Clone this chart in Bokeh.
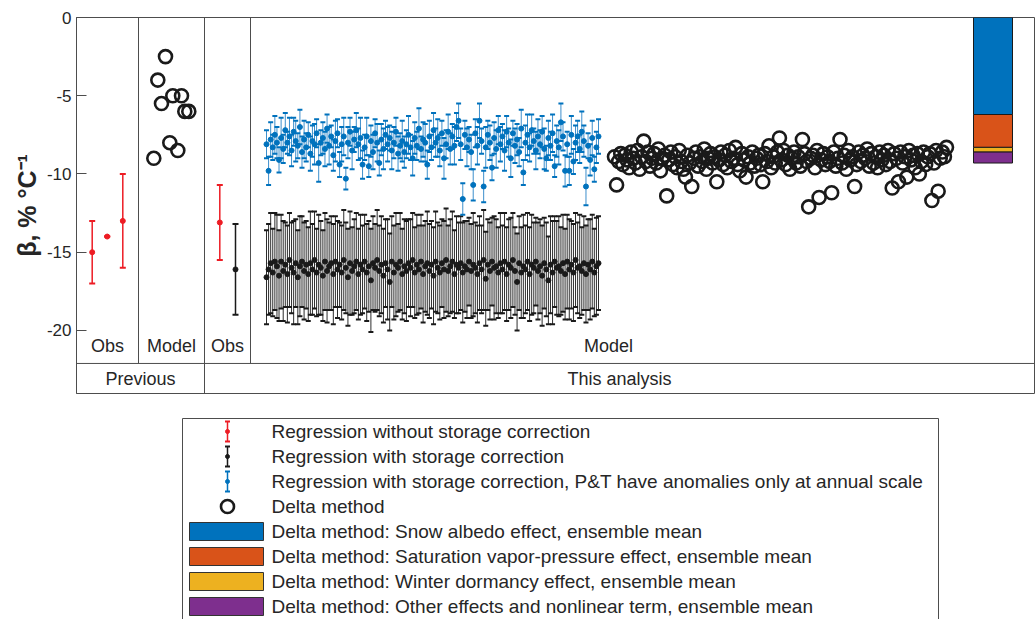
from bokeh.plotting import figure
from bokeh.layouts import column
from bokeh.models import Range1d, FixedTicker, Span
from bokeh.core.properties import value
from bokeh.embed import file_html
from bokeh.resources import INLINE

FONT = "Liberation Sans"

# ---------------- data ----------------
prev_obs_val = [-15.0, -14.0, -13.0]
prev_obs_lo = [-17.0, -14.0, -16.0]
prev_obs_hi = [-13.0, -14.0, -10.0]

prev_model_val = [-9.0, -4.0, -2.5, -5.5, -5.0, -5.0, -8.0, -8.5, -6.0, -6.0]

obs_nostorage = [-13.1]; obs_nostorage_lo = [-15.5]; obs_nostorage_hi = [-10.7]
obs_storage = [-16.1]; obs_storage_lo = [-19.0]; obs_storage_hi = [-13.2]

blue_val = [
    -8.1, -9.8, -7.8, -8.3, -7.5, -8.0, -9.1, -7.7, -8.4, -7.2, -8.0, -7.6, -8.5, -7.3, -7.9, -8.2, -7.0, -8.6, -7.8, -8.3,
    -7.5, -8.7, -7.9, -8.1, -7.4, -9.3, -8.0, -7.7, -8.4, -7.1, -8.2, -7.6, -8.8, -7.9, -7.4, -9.4, -8.1, -7.6, -10.3, -8.0,
    -7.3, -8.5, -7.8, -7.2, -8.1, -7.7, -9.4, -8.3, -7.6, -9.5, -7.9, -8.6, -7.4, -8.0, -9.3, -7.8, -8.4, -7.5, -8.1, -7.7,
    -8.5, -8.0, -7.3, -8.7, -8.2, -7.9, -8.6, -8.1, -7.5, -8.3, -9.0, -7.7, -8.2, -7.1, -8.4, -7.8, -8.0, -9.4, -7.6, -8.3,
    -7.2, -8.0, -7.7, -8.5, -7.4, -9.0, -8.1, -7.3, -8.4, -7.6, -8.2, -7.0, -6.6, -8.1, -11.6, -7.5, -8.3, -7.8, -8.6, -10.7,
    -7.4, -8.2, -6.6, -7.9, -10.8, -8.3, -7.5, -8.0, -9.6, -7.7, -8.4, -7.2, -8.1, -7.6, -8.5, -7.3, -8.0, -9.0, -7.4, -8.2,
    -7.8, -8.6, -7.1, -9.9, -8.0, -7.5, -8.3, -7.2, -7.9, -8.5, -7.6, -8.1, -7.3, -8.4, -9.0, -7.7, -8.2, -7.4, -9.5, -7.9,
    -8.3, -6.7, -7.6, -9.8, -8.1, -9.8, -7.5, -9.2, -8.0, -7.6, -8.4, -7.3, -7.9, -10.8, -8.2, -9.1, -7.7, -9.7, -8.3, -7.6,
]
blue_err = [
    0.9, 0.9, 1.1, 0.8, 1.2, 1.0, 0.8, 1.3, 0.9, 1.1, 0.7, 1.2, 1.0, 0.9, 1.3, 0.8, 1.1, 1.0, 1.2, 0.9,
    0.8, 1.1, 1.0, 1.3, 0.9, 1.2, 0.8, 1.0, 1.1, 0.9, 1.2, 0.7, 1.0, 1.3, 0.9, 0.8, 1.1, 1.2, 0.7, 1.0,
    0.9, 1.2, 0.8, 1.1, 1.0, 1.3, 0.9, 0.8, 1.2, 0.7, 1.0, 1.1, 0.9, 1.2, 0.8, 1.0, 1.3, 0.9, 1.1, 0.8,
    1.2, 1.0, 0.9, 1.1, 0.8, 1.3, 1.0, 0.9, 1.2, 0.8, 1.1, 1.0, 0.9, 1.3, 0.8, 1.1, 1.2, 0.9, 1.0, 0.8,
    1.1, 0.9, 1.2, 1.0, 0.8, 1.3, 0.9, 1.1, 1.0, 0.8, 1.2, 0.9, 1.1, 1.0, 1.0, 0.9, 1.2, 0.8, 1.1, 1.0,
    0.9, 1.2, 1.1, 0.8, 1.0, 1.3, 0.9, 1.1, 0.8, 1.0, 1.2, 0.9, 1.1, 0.8, 1.3, 1.0, 0.9, 1.2, 0.8, 1.1,
    1.0, 0.9, 1.2, 0.8, 1.1, 1.3, 0.9, 1.0, 0.8, 1.2, 1.1, 0.9, 1.0, 1.3, 0.8, 1.1, 0.9, 1.2, 0.7, 1.0,
    1.1, 1.2, 0.9, 1.0, 0.8, 0.9, 1.2, 0.8, 1.1, 1.0, 0.9, 1.3, 1.0, 1.2, 0.8, 1.0, 1.1, 0.8, 1.0, 1.1,
]
black_val = [
    -16.6, -16.1, -15.7, -16.3, -15.6, -15.9, -16.5, -15.6, -16.2, -15.8, -16.4, -15.5, -16.0, -16.3, -15.7, -16.6, -15.9, -15.6, -16.2, -15.8,
    -16.4, -15.7, -16.1, -15.5, -16.3, -15.8, -16.0, -16.5, -15.6, -16.2, -15.9, -15.7, -16.4, -15.6, -16.1, -15.8, -16.3, -15.5, -16.0, -16.6,
    -15.7, -16.2, -15.9, -15.6, -16.4, -15.8, -16.1, -15.6, -16.3, -15.9, -16.8, -15.7, -16.0, -15.5, -16.2, -15.8, -16.5, -15.7, -16.1, -16.9,
    -15.6, -16.3, -15.8, -16.0, -15.6, -16.4, -15.9, -16.2, -15.7, -16.0, -15.5, -16.3, -15.8, -16.1, -15.6, -16.4, -15.9, -15.7, -16.2, -15.8,
    -16.5, -15.6, -16.0, -16.3, -15.7, -16.1, -15.5, -16.2, -15.9, -15.6, -16.4, -15.8, -16.0, -15.7, -16.3, -15.9, -16.1, -15.6, -16.2, -15.8,
    -16.0, -16.4, -15.7, -16.1, -15.5, -16.7, -15.8, -16.2, -15.6, -16.0, -15.9, -16.3, -15.7, -16.1, -15.6, -16.4, -15.8, -16.0, -15.5, -16.2,
    -16.9, -15.7, -16.3, -15.9, -16.1, -15.6, -16.4, -15.8, -16.0, -15.6, -16.2, -15.9, -16.5, -15.7, -16.1, -16.8, -15.8, -16.3, -15.6, -16.0,
    -15.9, -16.2, -15.7, -16.4, -15.6, -16.1, -15.8, -16.3, -15.5, -16.0, -15.9, -16.2, -15.7, -16.4, -15.8, -16.1, -15.6, -16.3, -15.9, -15.7,
]
black_err = [
    3.0, 2.9, 3.2, 2.8, 3.1, 3.3, 2.9, 3.0, 3.2, 2.7, 3.1, 3.0, 2.9, 3.3, 2.8, 3.0, 3.2, 2.9, 3.1, 2.8,
    3.0, 3.3, 2.9, 3.1, 2.8, 3.2, 3.0, 2.9, 3.1, 3.3, 2.8, 3.0, 3.2, 2.9, 3.1, 2.7, 3.0, 3.2, 2.9, 3.1,
    3.3, 2.8, 3.0, 3.1, 2.9, 3.2, 2.8, 3.0, 3.1, 2.9, 3.3, 3.0, 2.8, 3.2, 2.9, 3.1, 3.0, 2.8, 3.2, 3.1,
    2.9, 3.0, 3.3, 2.8, 3.1, 2.9, 3.0, 3.2, 2.8, 3.1, 3.0, 2.9, 3.2, 2.8, 3.0, 3.1, 2.9, 3.3, 3.0, 2.8,
    3.1, 3.2, 2.9, 3.0, 2.8, 3.1, 3.3, 2.9, 3.0, 3.2, 2.8, 3.1, 2.9, 3.0, 3.2, 2.9, 3.1, 2.8, 3.0, 3.3,
    2.9, 3.1, 3.0, 2.8, 3.2, 3.0, 2.9, 3.1, 2.8, 3.3, 3.0, 2.9, 3.2, 2.8, 3.1, 3.0, 2.9, 3.2, 3.0, 2.8,
    3.1, 3.0, 2.9, 3.3, 2.8, 3.1, 3.0, 3.2, 2.9, 2.8, 3.1, 3.0, 3.2, 2.9, 3.0, 2.8, 3.1, 3.3, 2.9, 3.0,
    3.2, 2.8, 3.1, 2.9, 3.0, 3.2, 2.8, 3.1, 3.0, 2.9, 3.3, 2.8, 3.0, 3.1, 2.9, 3.2, 3.0, 2.8, 3.1, 3.0,
]
delta_val = [
    -8.9, -10.7, -9.2, -8.7, -9.4, -8.8, -9.1, -9.6, -8.6, -9.0, -9.3, -8.5, -9.7, -8.9, -7.9, -9.2, -8.6, -9.5, -9.0, -8.7,
    -9.3, -8.4, -9.8, -9.0, -8.8, -11.4, -9.1, -8.6, -9.4, -8.9, -9.6, -8.5, -9.2, -9.7, -10.2, -8.8, -9.3, -10.8, -9.0, -8.6,
    -9.5, -8.9, -9.2, -8.4, -9.7, -9.0, -8.7, -9.3, -8.9, -10.5, -9.1, -8.6, -9.4, -8.8, -9.6, -8.5, -9.2, -9.0, -8.3, -9.4,
    -9.8, -8.7, -9.1, -10.2, -8.9, -9.3, -8.6, -9.5, -9.0, -8.8, -9.4, -10.5, -8.7, -9.2, -8.2, -9.6, -8.9, -9.3, -8.6, -7.7,
    -9.1, -8.5, -9.4, -8.8, -9.7, -9.0, -8.6, -9.3, -8.9, -9.5, -7.8, -8.7, -9.2, -12.1, -9.0, -8.8, -9.6, -8.5, -11.5, -9.1,
    -8.7, -9.4, -8.9, -9.2, -11.2, -8.6, -9.5, -9.0, -7.8, -9.3, -8.8, -9.7, -8.5, -9.1, -8.9, -10.8, -9.4, -8.6, -9.2, -8.8,
    -9.0, -8.4, -9.5, -8.7, -9.3, -8.9, -9.6, -8.6, -9.1, -8.8, -9.4, -8.5, -9.2, -10.9, -8.7, -9.0, -10.5, -8.6, -9.3, -8.9,
    -10.2, -8.5, -9.1, -8.8, -9.6, -8.7, -10.0, -9.2, -8.6, -9.4, -8.9, -8.7, -11.7, -9.3, -8.5, -11.1, -9.0, -8.6, -8.9, -8.3,
]

effect_names = ["Snow albedo effect", "Saturation vapor-pressure effect",
                "Winter dormancy effect", "Other effects and nonlinear term"]
effect_vals = [-6.2, -2.1, -0.3, -0.7]
effect_colors = ["#0072BD", "#D95319", "#EDB120", "#7E2F8E"]

yticks = [-20, -15, -10, -5, 0]
group_labels = ["Obs", "Model", "Obs", "Model"]
band_labels = ["Previous", "This analysis"]

legend_labels = [
    "Regression without storage correction",
    "Regression with storage correction",
    "Regression with storage correction, P&T have anomalies only at annual scale",
    "Delta method",
    "Delta method: Snow albedo effect, ensemble mean",
    "Delta method: Saturation vapor-pressure effect, ensemble mean",
    "Delta method: Winter dormancy effect, ensemble mean",
    "Delta method: Other effects and nonlinear term, ensemble mean",
]

RED = "#ED1C24"
BLUE = "#0072BD"
BLACK = "#1a1a1a"
AX = "#4d4d4d"
TXT = "#262626"

# ---------------- main figure ----------------
Y_BOTTOM = -24.03
Y_SEP = -22.11
p = figure(width=1035, height=395, output_backend="svg", toolbar_location=None,
           x_range=Range1d(76, 1034), y_range=Range1d(Y_BOTTOM, 0),
           min_border_left=76, min_border_right=1, min_border_top=17, min_border_bottom=2,
           x_axis_location=None)
p.grid.visible = False
p.background_fill_color = "white"
p.outline_line_color = AX
p.outline_line_width = 1

ya = p.yaxis[0]
ya.ticker = FixedTicker(ticks=yticks)
ya.major_label_overrides = {t: str(t) for t in yticks}
ya.major_tick_in = 10
ya.major_tick_out = 0
ya.minor_tick_in = 0
ya.minor_tick_out = 0
ya.axis_line_color = AX
ya.major_tick_line_color = AX
ya.major_label_text_font = FONT
ya.major_label_text_font_size = "17px"
ya.major_label_text_color = TXT
ya.major_label_standoff = 5
ya.axis_label = "β, % °C⁻¹"
ya.axis_label_text_font = FONT
ya.axis_label_text_font_size = "25px"
ya.axis_label_text_font_style = "bold"
ya.axis_label_text_color = TXT
ya.axis_label_standoff = 3

# dividers
p.add_layout(Span(location=Y_SEP, dimension="width", line_color=AX, line_width=1))
p.segment(x0=[138, 250], y0=[0, 0], x1=[138, 250], y1=[Y_SEP, Y_SEP], line_color=AX, line_width=1)
p.segment(x0=[204], y0=[0], x1=[204], y1=[Y_BOTTOM], line_color=AX, line_width=1)

def errorbars(xs, vals, lo, hi, color, stem_w, stem_color, cap, dot):
    p.segment(x0=xs, y0=lo, x1=xs, y1=hi, line_color=stem_color, line_width=stem_w)
    p.scatter(xs, lo, marker="dash", size=cap, line_color=color, line_width=2)
    p.scatter(xs, hi, marker="dash", size=cap, line_color=color, line_width=2)
    p.scatter(xs, vals, marker="circle", size=dot, fill_color=color, line_color=color)

# previous obs (red)
prev_obs_x = [91.7, 106.7, 122.3]
errorbars(prev_obs_x, prev_obs_val, prev_obs_lo, prev_obs_hi, RED, 1.5, RED, 6, 5)

# previous model circles
prev_model_x = [153.3, 157.3, 165.0, 161.0, 172.3, 181.0, 169.3, 177.3, 184.3, 188.3]
p.scatter(prev_model_x, prev_model_val, marker="circle", size=13, fill_color=None,
          line_color=BLACK, line_width=2.6)

# this analysis obs
errorbars([219.3], obs_nostorage, obs_nostorage_lo, obs_nostorage_hi, RED, 1.5, RED, 6, 5)
errorbars([235.0], obs_storage, obs_storage_lo, obs_storage_hi, BLACK, 1.5, BLACK, 6, 5)

# model ensembles
def spread(n, x0, x1):
    return [x0 + (x1 - x0) * i / (n - 1) for i in range(n)]

bx = spread(len(black_val), 266, 598)
black_lo = [v - e for v, e in zip(black_val, black_err)]
black_hi = [v + e for v, e in zip(black_val, black_err)]
errorbars(bx, black_val, black_lo, black_hi, BLACK, 1, "#2e2e2e", 5, 5)

ux = spread(len(blue_val), 266, 598)
blue_lo = [v - e for v, e in zip(blue_val, blue_err)]
blue_hi = [v + e for v, e in zip(blue_val, blue_err)]
errorbars(ux, blue_val, blue_lo, blue_hi, BLUE, 1, "#3d8fcc", 5, 5)

dx = spread(len(delta_val), 614, 946)
p.scatter(dx, delta_val, marker="circle", size=13, fill_color=None,
          line_color=BLACK, line_width=2.6)

# stacked bar
tops, bottoms = [], []
acc = 0.0
for v in effect_vals:
    tops.append(acc)
    acc += v
    bottoms.append(acc)
p.vbar(x=[992.5] * len(effect_vals), width=39, top=tops, bottom=bottoms,
       fill_color=effect_colors, line_color=BLACK, line_width=1)

# group labels
p.text(x=[107, 171, 227, 608], y=[-21.0] * 4, text=group_labels,
       text_font=value(FONT), text_font_size="18px", text_align="center",
       text_baseline="middle", text_color=TXT)
p.text(x=[140, 619], y=[-23.1] * 2, text=band_labels,
       text_font=value(FONT), text_font_size="18px", text_align="center",
       text_baseline="middle", text_color=TXT)

# ---------------- legend figure ----------------
q = figure(width=1035, height=224, output_backend="svg", toolbar_location=None,
           x_range=Range1d(76, 1034), y_range=Range1d(619, 395),
           min_border_left=76, min_border_right=1, min_border_top=0, min_border_bottom=0,
           x_axis_location=None, y_axis_location=None)
q.grid.visible = False
q.outline_line_color = None

q.quad(left=[182], right=[938], top=[418], bottom=[640], fill_color="white",
       line_color=AX, line_width=1)

row_y = [431 + 25 * i for i in range(len(legend_labels))]
err_colors = [RED, BLACK, BLUE]
for i, c in enumerate(err_colors):
    y = row_y[i]
    q.segment(x0=[227], y0=[y - 10], x1=[227], y1=[y + 10], line_color=c, line_width=1.5)
    q.scatter([227, 227], [y - 10, y + 10], marker="dash", size=5, line_color=c, line_width=2)
    q.scatter([227], [y], marker="circle", size=4, fill_color=c, line_color=c)
q.scatter([227], [row_y[3]], marker="circle", size=13, fill_color=None, line_color=BLACK, line_width=2.6)
sw_y = row_y[4:]
q.quad(left=[189] * 4, right=[263] * 4, top=[y - 9 for y in sw_y], bottom=[y + 9 for y in sw_y],
       fill_color=effect_colors, line_color="#333333", line_width=1)
q.text(x=[271] * len(legend_labels), y=row_y, text=legend_labels,
       text_font=value(FONT), text_font_size="19px", text_align="left",
       text_baseline="middle", text_color=TXT)

layout = column(p, q, spacing=0)
open("out.html", "w").write(file_html(layout, INLINE))
